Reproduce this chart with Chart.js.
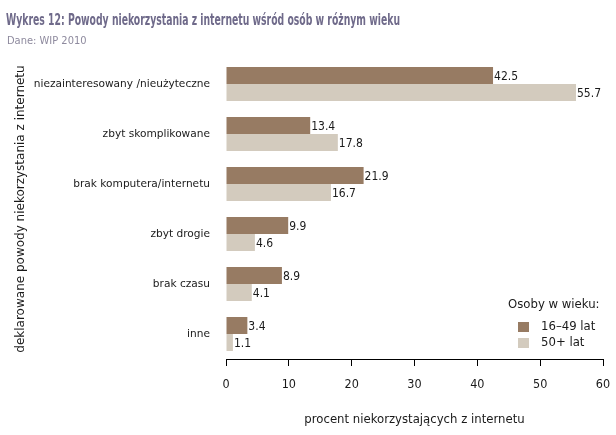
<!DOCTYPE html>
<html>
<head>
<meta charset="utf-8">
<script src="https://cdn.jsdelivr.net/npm/chart.js@4"></script>
<style>
    html, body { margin: 0; padding: 0; background: #fff; }
    #wrap { width: 616px; height: 435px; }
</style>
</head>
<body>
<div id="wrap"><canvas id="chart" width="616" height="435"></canvas></div>
<script>
const categories = [
    "niezainteresowany /nieużyteczne",
    "zbyt skomplikowane",
    "brak komputera/internetu",
    "zbyt drogie",
    "brak czasu",
    "inne"
];
const young = [42.5, 13.4, 21.9, 9.9, 8.9, 3.4];
const old = [55.7, 17.8, 16.7, 4.6, 4.1, 1.1];
const xTicks = [0, 10, 20, 30, 40, 50, 60];

const titleText = "Wykres 12: Powody niekorzystania z internetu wśród osób w różnym wieku";
const subtitleText = "Dane: WIP 2010";
const legendTitle = "Osoby w wieku:";

const condensed = "'DejaVu Sans Condensed', 'Liberation Sans Narrow', 'DejaVu Sans', sans-serif";
const plain = "'DejaVu Sans', Verdana, sans-serif";

// title is set in a narrow face, so squeeze it horizontally
const heading = {
    id: 'heading',
    afterDraw(chart) {
        const ctx = chart.ctx;
        ctx.save();
        ctx.textBaseline = "middle";
        ctx.textAlign = "left";
        ctx.font = "bold 15px " + condensed;
        ctx.fillStyle = "#6f6a8a";
        const w = ctx.measureText(titleText).width;
        ctx.translate(6, 21);
        ctx.scale(394 / w, 1);
        ctx.fillText(titleText, 0, 0);
        ctx.restore();

        ctx.save();
        ctx.textBaseline = "middle";
        ctx.font = "11px " + condensed;
        ctx.fillStyle = "#8e8a9e";
        ctx.fillText(subtitleText, 7, 41);
        ctx.restore();
    }
};

const valueLabels = {
    id: 'valueLabels',
    afterDatasetsDraw(chart) {
        const ctx = chart.ctx;
        ctx.save();
        ctx.font = "12px " + condensed;
        ctx.fillStyle = "#1a1a1a";
        ctx.textAlign = "left";
        ctx.textBaseline = "middle";
        chart.data.datasets.forEach((ds, i) => {
            chart.getDatasetMeta(i).data.forEach((bar, j) => {
                ctx.fillText(ds.data[j].toFixed(1), bar.x + 1, bar.y + 1);
            });
        });
        ctx.restore();
    }
};

const boxLegend = {
    id: 'boxLegend',
    afterDraw(chart) {
        const ctx = chart.ctx;
        ctx.save();
        ctx.textBaseline = "middle";
        ctx.textAlign = "left";
        ctx.fillStyle = "#1a1a1a";
        ctx.font = "13px " + condensed;
        ctx.fillText(legendTitle, 508, 305);
        chart.data.datasets.forEach((ds, i) => {
            const y = 327 + i * 16;
            ctx.fillStyle = ds.backgroundColor;
            ctx.fillRect(518, y - 5, 11, 10);
            ctx.fillStyle = "#1a1a1a";
            ctx.fillText(ds.label, 541, y);
        });
        ctx.restore();
    }
};

new Chart(document.getElementById('chart'), {
    type: 'bar',
    data: {
        labels: categories,
        datasets: [
            { label: "16–49 lat", data: young, backgroundColor: "#977b63" },
            { label: "50+ lat", data: old, backgroundColor: "#d3cbbe" }
        ]
    },
    options: {
        indexAxis: 'y',
        responsive: false,
        animation: false,
        devicePixelRatio: 1,
        layout: { padding: { left: 8, right: 13, top: 59, bottom: 0 } },
        datasets: { bar: { categoryPercentage: 0.68, barPercentage: 1 } },
        plugins: {
            legend: { display: false },
            tooltip: { enabled: false }
        },
        scales: {
            x: {
                min: 0,
                max: 60,
                afterFit(scale) {
                    scale.height = 76;
                    scale.paddingLeft = 0;
                    scale.paddingRight = 0;
                },
                afterBuildTicks(scale) { scale.ticks = xTicks.map(v => ({ value: v })); },
                grid: { drawOnChartArea: false, drawTicks: true, tickLength: 7, color: "#000" },
                border: { display: true, color: "#000", width: 1 },
                ticks: { padding: 11, color: "#1a1a1a", font: { family: condensed, size: 12.5 } },
                title: {
                    display: true,
                    text: "procent niekorzystających z internetu",
                    color: "#1a1a1a",
                    font: { family: condensed, size: 13 },
                    padding: { top: 4, bottom: 8 }
                }
            },
            y: {
                afterFit(scale) { scale.width = 218; },
                grid: { display: false },
                border: { display: false },
                ticks: { padding: 8, color: "#1a1a1a", font: { family: plain, size: 10.6 } },
                title: {
                    display: true,
                    text: "deklarowane powody niekorzystania z internetu",
                    color: "#1a1a1a",
                    font: { family: plain, size: 12 },
                    padding: { top: 6, bottom: 0 }
                }
            }
        }
    },
    plugins: [heading, valueLabels, boxLegend]
});
</script>
</body>
</html>
